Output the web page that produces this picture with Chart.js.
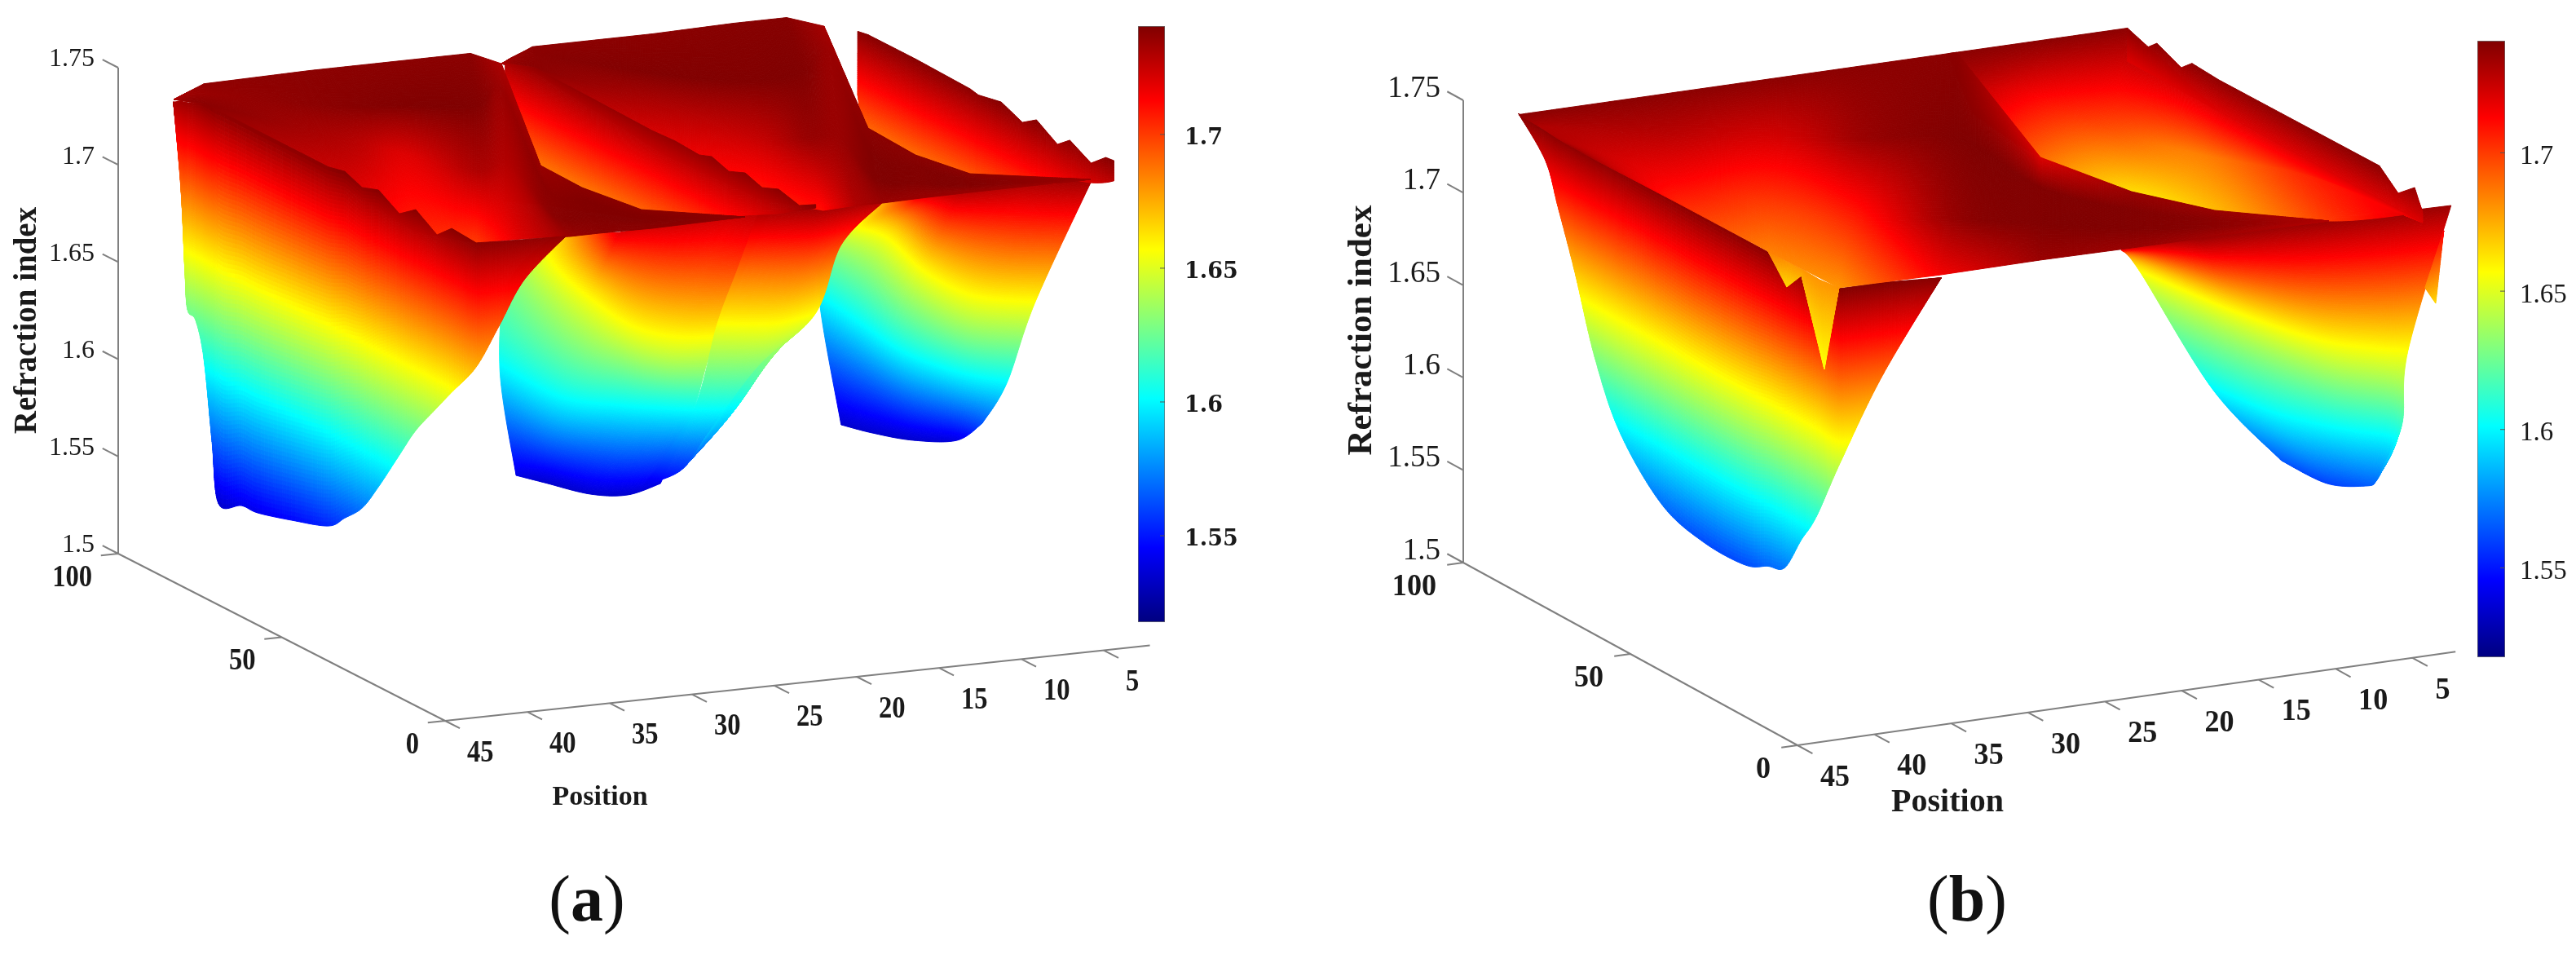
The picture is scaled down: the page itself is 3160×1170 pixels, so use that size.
<!DOCTYPE html>
<html>
<head>
<meta charset="utf-8">
<title>Refraction index</title>
<script src="https://cdn.jsdelivr.net/npm/chart.js@4"></script>
<style>
  html, body { margin: 0; background: #fff; }
  #page { position: relative; width: 3160px; height: 1170px; overflow: hidden; }
  canvas { position: absolute; }
  #surfA, #surfB { filter: blur(0.7px); }
  .cap { position: absolute; top: 1052px; width: 200px; text-align: center; color: #111;
         font: 80px "Liberation Serif", serif; line-height: 100px; }
</style>
</head>
<body>
<div id="page">
  <canvas id="surfA" width="1580" height="1170" style="left:0;top:0"></canvas>
  <canvas id="surfB" width="1580" height="1170" style="left:1580px;top:0"></canvas>
  <canvas id="barA" width="133" height="743" style="left:1396px;top:26px"></canvas>
  <canvas id="barB" width="134" height="768" style="left:3039px;top:44px"></canvas>
  <div class="cap" style="left:620px">(<b>a</b>)</div>
  <div class="cap" style="left:2313px">(<b>b</b>)</div>
</div>
<script>
// axis ticks
const positionTicks = [45, 40, 35, 30, 25, 20, 15, 10, 5];
const depthTicks = [0, 50, 100];
const indexTicks = [1.5, 1.55, 1.6, 1.65, 1.7, 1.75];
const barTicks = [1.55, 1.6, 1.65, 1.7];
const indexMin = 1.5177, indexMax = 1.7405;

// panel (a): every patch is position / depth / index
const aBack2Pos = [[21.73,21.73,21.73,21.73],[19.85,20.63,21.79,21.69],[12.57,16.83,17.71,19.46],[7.62,12.94,15.26,17.04],[4.41,9.26,14.51,15.97],[2.13,5.07,12.87,17.66],[10.98,13.79,16,17.03],[11.24,12.74,14.27,14.62],[10.34,11.29,11.93,11.61],[4.27,4.27,4.27,4.27]];
const aBack2Depth = [[100,100,100,100],[100,95.59,89.5,89.49],[100,78.52,71.59,61.58],[100,69.52,55.3,43.85],[100,70.54,42.89,30.57],[100,83.2,41.16,12.02],[41.99,26.53,14.21,7],[26.18,18.1,9.95,7.4],[14.01,9.25,6.02,7.64],[7.7,7.7,7.7,7.7]];
const aBack2Index = [[1.731,1.731,1.731,1.731],[1.738,1.738,1.738,1.735],[1.738,1.74,1.73,1.715],[1.739,1.74,1.725,1.705],[1.739,1.74,1.735,1.71],[1.7325,1.735,1.735,1.73],[1.738,1.74,1.74,1.735],[1.738,1.74,1.74,1.735],[1.738,1.74,1.74,1.735],[1.735,1.735,1.735,1.735]];

const aBack1Pos = [[41.63,41.63,41.63,41.63],[39.8,40.32,41.89,41.89],[33.37,36.03,36.89,39.7],[28.42,32.53,33.31,37.64],[23.61,28.85,33.34,34.7],[21.73,25.06,30.9,35.82],[30.53,32.99,35.39,35.99],[31.19,32.69,33.72,34.82],[30.37,31.26,31.62,31.67],[25.89,25.89,25.89,25.89]];
const aBack1Depth = [[100,100,100,100],[100,96.91,88.7,88.7],[100,81.58,72.28,55.14],[100,75.54,70.37,46.05],[100,71.66,49.03,42.41],[100,83.27,51.33,22.77],[43.68,29.58,15.03,6.99],[27.68,18.63,10.94,4.19],[13.64,8.35,5.31,3.8],[4.53,4.53,4.53,4.53]];
const aBack1Index = [[1.7306,1.7306,1.7306,1.7306],[1.737,1.735,1.738,1.738],[1.738,1.738,1.73,1.72],[1.738,1.74,1.72,1.705],[1.738,1.74,1.73,1.7],[1.731,1.735,1.73,1.72],[1.735,1.738,1.738,1.735],[1.738,1.74,1.74,1.738],[1.738,1.74,1.74,1.738],[1.738,1.738,1.738,1.738]];

const aFront2Pos = [[22.33,23.42,26.59,24.97],[30.27,26.24,26.69,23.3],[27.32,26.8,24.34,22.13],[23.89,25.71,22.77,20.32],[22.61,23.66,21.3,18.52]];
const aFront2Depth = [[80.79,89.01,76.02,79.19],[20.82,49.85,56.6,78.89],[18.24,34.33,49.25,70.82],[18.05,26.85,46.14,68.44],[13.32,24.69,43.61,67.52]];
const aFront2Index = [[1.66,1.63,1.6,1.54],[1.72,1.657,1.6,1.535],[1.725,1.657,1.6,1.535],[1.725,1.657,1.6,1.535],[1.73,1.657,1.6,1.54]];

const aSlopePos = [[23.38,22.22,22.3,21.3,19.5],[20.58,19.09,19.43,19.2,19.08],[15.99,16.52,16.43,18.39,20.37]];
const aSlopeDepth = [[13.17,25.25,31.05,43.61,67.57],[8.31,21.04,28.03,40.46,58.49],[12.21,22.27,30.72,38.3,44.49]];
const aSlopeIndex = [[1.73,1.69,1.657,1.6,1.54],[1.735,1.695,1.657,1.605,1.555],[1.73,1.7,1.657,1.625,1.585]];

const aFront3Pos = [[5.49,4.65,3.74,2.72],[11.52,5.34,4.3,1.96],[10.98,6.78,5.04,0.63],[7.06,6.68,4.18,-0.62],[4.19,4.17,2.73,1.2]];
const aFront3Depth = [[65.1,86.31,93.4,91.83],[23.02,65.38,79.36,86.16],[13.27,45.91,60.63,80.37],[13.05,31.18,47.52,73.2],[7.62,25.12,41.12,56.29]];
const aFront3Index = [[1.675,1.63,1.6,1.535],[1.72,1.657,1.6,1.535],[1.73,1.657,1.6,1.535],[1.73,1.657,1.6,1.54],[1.735,1.657,1.6,1.565]];

// the three steep walls of (a): one position each, top and bottom index along depth
const aWall1Pos = [41.9,41.9,41.9,41.9,41.9,41.9,41.9,41.9,41.9,41.9,41.9,41.9,41.9,41.9,41.9,41.9,41.9,41.9,41.9,41.9,40.54,39,36.5];
const aWall1Depth = [98.7,96.4,95.2,94.4,91.9,89.4,86.9,84.9,77.9,73,62.7,51.3,46.3,41,36,29.6,24.6,18.1,13.6,6.1,6,6,6];
const aWall1Top = [1.7306,1.733,1.7335,1.734,1.736,1.738,1.738,1.738,1.738,1.738,1.738,1.738,1.74,1.7363,1.7393,1.7326,1.739,1.7316,1.7388,1.7378,1.7374,1.737,1.7363];
const aWall1Bottom = [1.7306,1.6874,1.6464,1.6274,1.6241,1.6065,1.5659,1.5358,1.5409,1.5414,1.5465,1.5533,1.5617,1.5714,1.5866,1.6085,1.6254,1.6427,1.6545,1.674,1.6938,1.7163,1.7363];

const aWall2Pos = [21.5,21.5,21.5,21.5,21.5,21.5,21.5,21.5,21.5,21.5,21.5,21.5];
const aWall2Depth = [100,91,55,48,40.6,36.8,31.6,26.6,21.4,16.4,10,5];
const aWall2Top = [1.7307,1.7365,1.735,1.7357,1.7349,1.7373,1.7342,1.7377,1.7346,1.7381,1.7352,1.74];
const aWall2Bottom = [1.66,1.6664,1.689,1.6958,1.7022,1.7059,1.7107,1.7159,1.7208,1.7255,1.7327,1.7382];

const aWall3Pos = [2,2,2,2,2,2,2,2,2,2,2,2,2];
const aWall3Depth = [90.4,87.2,72.7,56,53.5,46.5,40,35.7,29.3,25.5,19,14.5,12];
const aWall3Top = [1.738,1.739,1.739,1.738,1.737,1.7394,1.7345,1.7395,1.7324,1.7378,1.7316,1.7384,1.7389];
const aWall3Bottom = [1.705,1.691,1.6896,1.6943,1.695,1.7,1.7025,1.7065,1.7125,1.7175,1.7215,1.7255,1.7285];

// panel (b)
const bTopPos = [[41.4,40.06,40.24,41.75],[33.1,34.08,35.24,35.77],[24.6,27.53,30.27,32.17],[18.2,25.18,28.48,31.09],[12.9,21.42,28.46,30.72],[15.36,21.7,25.17,27.69],[16.51,19.15,20.92,21.82],[13.99,15.36,16.13,16.1],[8.22,8.22,8.22,8.22]];
const bTopDepth = [[100,100,93.6,81],[100,90.47,82.7,77.84],[100,86.47,76.3,67.85],[100,70.5,60.2,51.6],[100,60.93,29.8,22.8],[63.65,34.5,18.56,7],[31.1,18.94,10.8,6.65],[17.81,11.5,7.96,8.1],[10.2,10.2,10.2,10.2]];
const bTopIndex = [[1.738,1.73,1.73,1.738],[1.738,1.728,1.715,1.705],[1.738,1.722,1.7,1.685],[1.738,1.735,1.705,1.68],[1.738,1.74,1.735,1.715],[1.72,1.74,1.74,1.735],[1.735,1.74,1.74,1.735],[1.735,1.738,1.738,1.733],[1.73,1.73,1.73,1.73]];

const bFarPos = [[13.46,14.46,15.6],[6.03,9.12,10.12],[1.8,4.8,4.28],[1.8,0.74,2.98],[1.8,0.69,2.98],[1.8,1.21,1.46]];
const bFarDepth = [[100,91.75,82.55],[100,96.07,87.78],[100,91.05,87.34],[72.6,82.92,68.47],[24.6,51.44,34.28],[11.7,21,16.2]];
const bFarIndex = [[1.738,1.73,1.725],[1.738,1.715,1.69],[1.738,1.695,1.665],[1.72,1.685,1.672],[1.72,1.705,1.7],[1.72,1.715,1.72]];

const bBowlPos = [[19.91,10,7.44,4.49],[17.33,8.89,6.57,3.42],[12.04,7.22,4.76,2.5],[6.83,4.91,2.89,2.41],[1.33,3.63,3.45,3.07]];
const bBowlDepth = [[18.64,58.57,48.45,41.53],[6.62,34.92,33.13,32.79],[6.55,17.74,22.93,25.3],[6.11,10.07,16.67,22.79],[5.34,7.65,10.2,17.32]];
const bBowlIndex = [[1.72,1.657,1.6,1.565],[1.735,1.657,1.6,1.56],[1.735,1.657,1.6,1.565],[1.735,1.657,1.6,1.57],[1.735,1.657,1.615,1.585]];

const bNotchPos = [[0.6,0.6],[0.84,-0.86]];
const bNotchDepth = [[10.89,10.89],[15.38,20]];
const bNotchIndex = [[1.715,1.715],[1.68,1.665]];

const bSpikePos = [[32.17,32.17],[31.27,31.09],[31.25,31],[31.33,35.18],[31.09,31.09]];
const bSpikeDepth = [[67.85,67.85],[65.62,67.2],[61.58,63.2],[56.32,37.14],[51.6,51.6]];
const bSpikeIndex = [[1.685,1.685],[1.68,1.665],[1.68,1.675],[1.68,1.655],[1.68,1.68]];

const bWallPos = [41.5,41.5,41.5,41.5,41.5,41.5,41.5,41.5,41.5,41.5,41.5,41.5,41.5,41.5,38.8,35];
const bWallDepth = [99.5,91.5,87.8,82.7,76.6,69,56.6,44.1,31.7,25,20,15,10.5,3,3,3];
const bWallTop = [1.739,1.738,1.738,1.738,1.738,1.738,1.738,1.738,1.738,1.738,1.738,1.735,1.735,1.74,1.74,1.738];
const bWallBottom = [1.739,1.7216,1.7006,1.67,1.629,1.596,1.57,1.562,1.562,1.568,1.572,1.592,1.609,1.647,1.69,1.738];

const bRimPos = [1.8,1.8,1.8,1.8,1.8,1.8,1.8,1.8,1.8,1.8];
const bRimDepth = [100,95.1,91.2,83.9,80.7,72.6,24.6,19,14.1,11.7];
const bRimTop = [1.738,1.7316,1.7385,1.7325,1.738,1.737,1.738,1.7287,1.7366,1.7257];
const bRimBottom = [1.72,1.72,1.72,1.72,1.72,1.72,1.72,1.72,1.72,1.72];

function jet(n) {
  const t = Math.min(1, Math.max(0, (n - indexMin) / (indexMax - indexMin)));
  const ch = v => Math.round(255 * Math.min(1, Math.max(0, 1.5 - Math.abs(4 * t - v))));
  return `rgb(${ch(3)},${ch(2)},${ch(1)})`;
}

// view of the 3D box on the hidden x/y scales
function project(v, p, d, n) {
  const q = 45 - p, D = 100 - d;
  return { x: v.x0 + v.qx * q + v.dx * D, y: v.y0 + v.qy * q + v.dy * D - (n - 1.5) * v.nz };
}

// smoothRows: rows that run as a spline along the columns, smoothV: spline across rows
function patch(v, pos, depth, index, smoothRows = [], smoothV = false) {
  const data = [];
  pos.forEach((col, c) => col.forEach((p, r) => {
    const pt = project(v, p, depth[c][r], index[c][r]);
    pt.n = index[c][r];
    data.push(pt);
  }));
  return { data, cols: pos.length, rows: pos[0].length, showLine: false, pointRadius: 0, surface: true, smoothRows, smoothV };
}

function wall(v, pos, depth, top, bottom) {
  return patch(v, pos.map(p => [p, p]), depth.map(d => [d, d]), top.map((t, i) => [t, bottom[i]]), [1]);
}

function spline(a, b, c, d, t) {
  return 0.5 * (2 * b + (c - a) * t + (2 * a - 5 * b + 4 * c - d) * t * t + (3 * b - a - 3 * c + d) * t * t * t);
}

function drawPatch(chart, ds) {
  const ctx = chart.ctx, sx = chart.scales.x, sy = chart.scales.y;
  const cl = (i, m) => Math.max(0, Math.min(m - 1, i));
  const at = (c, r) => {
    const pt = ds.data[cl(c, ds.cols) * ds.rows + cl(r, ds.rows)];
    return { x: sx.getPixelForValue(pt.x), y: sy.getPixelForValue(pt.y), n: pt.n };
  };
  const along = (c, r, t) => {
    const b = at(c, r), e = at(c + 1, r);
    if (!ds.smoothRows.includes(r)) return { x: b.x + (e.x - b.x) * t, y: b.y + (e.y - b.y) * t, n: b.n + (e.n - b.n) * t };
    const a = at(c - 1, r), f = at(c + 2, r);
    return { x: spline(a.x, b.x, e.x, f.x, t), y: spline(a.y, b.y, e.y, f.y, t), n: spline(a.n, b.n, e.n, f.n, t) };
  };
  const across = (c, r, u, t) => {
    const b = along(c, r, u), e = along(c, r + 1, u);
    if (!ds.smoothV) return { x: b.x + (e.x - b.x) * t, y: b.y + (e.y - b.y) * t, n: b.n + (e.n - b.n) * t };
    const a = along(c, cl(r - 1, ds.rows), u), f = along(c, cl(r + 2, ds.rows), u);
    return { x: spline(a.x, b.x, e.x, f.x, t), y: spline(a.y, b.y, e.y, f.y, t), n: spline(a.n, b.n, e.n, f.n, t) };
  };
  ctx.lineWidth = 1;
  ctx.lineJoin = 'round';
  for (let c = 0; c < ds.cols - 1; c++) {
    for (let r = 0; r < ds.rows - 1; r++) {
      const a = at(c, r), b = at(c + 1, r), d = at(c, r + 1), e = at(c + 1, r + 1);
      const nu = Math.min(70, Math.max(1, Math.ceil(Math.max(Math.hypot(a.x - b.x, a.y - b.y), Math.hypot(d.x - e.x, d.y - e.y)) / 3)));
      const nv = Math.min(90, Math.max(1, Math.ceil(Math.max(Math.hypot(a.x - d.x, a.y - d.y), Math.hypot(b.x - e.x, b.y - e.y)) / 2.5)));
      const grid = [];
      for (let i = 0; i <= nu; i++) {
        const line = [];
        for (let j = 0; j <= nv; j++) line.push(across(c, r, i / nu, j / nv));
        grid.push(line);
      }
      for (let i = 0; i < nu; i++) {
        for (let j = 0; j < nv; j++) {
          const p0 = grid[i][j], p1 = grid[i + 1][j], p2 = grid[i + 1][j + 1], p3 = grid[i][j + 1];
          const col = jet((p0.n + p1.n + p2.n + p3.n) / 4);
          ctx.fillStyle = col;
          ctx.strokeStyle = col;
          ctx.beginPath();
          ctx.moveTo(p0.x, p0.y);
          ctx.lineTo(p1.x, p1.y);
          ctx.lineTo(p2.x, p2.y);
          ctx.lineTo(p3.x, p3.y);
          ctx.closePath();
          ctx.fill();
          ctx.stroke();
        }
      }
    }
  }
}

function axisLines(v, endPos) {
  const gap = { x: NaN, y: NaN };
  const seg = [];
  const add = (p1, d1, n1, p2, d2, n2) => seg.push(project(v, p1, d1, n1), project(v, p2, d2, n2), gap);
  add(45, 0, 1.5, endPos, 0, 1.5);
  add(45, 0, 1.5, 45, 100, 1.5);
  add(45, 100, 1.5, 45, 100, 1.75);
  positionTicks.forEach(p => add(p, 0, 1.5, p, -4.5, 1.5));
  depthTicks.forEach(d => add(45, d, 1.5, 46.05, d, 1.5));
  indexTicks.forEach(n => add(45, 100, n, 45, 104.8, n));
  return { data: seg, showLine: true, borderColor: '#808080', borderWidth: 2, pointRadius: 0 };
}

function makeSurface(id, left, v, patches, txt) {
  new Chart(document.getElementById(id), {
    type: 'scatter',
    data: { datasets: [axisLines(v, 2.2)].concat(patches) },
    options: {
      responsive: false,
      animation: false,
      events: [],
      layout: { padding: 0 },
      plugins: { legend: { display: false }, tooltip: { enabled: false } },
      scales: {
        x: { type: 'linear', display: false, min: left, max: left + 1580 },
        y: { type: 'linear', display: false, min: 0, max: 1170, reverse: true }
      }
    },
    plugins: [{
      id: 'surface',
      afterDatasetsDraw(chart) {
        chart.data.datasets.forEach(ds => { if (ds.surface) drawPatch(chart, ds); });
        const ctx = chart.ctx, sx = chart.scales.x, sy = chart.scales.y;
        const put = (s, pt, dx, dy, align, squeeze) => {
          ctx.save();
          ctx.translate(sx.getPixelForValue(pt.x) + dx, sy.getPixelForValue(pt.y) + dy);
          ctx.scale(squeeze, 1);
          ctx.textAlign = align;
          ctx.fillText(s, 0, 0);
          ctx.restore();
        };
        ctx.save();
        ctx.fillStyle = '#1a1a1a';
        ctx.textBaseline = 'middle';
        ctx.font = txt.indexFont;
        indexTicks.forEach(n => put(String(n), project(v, 45, 100, n), txt.indexX, txt.indexY, 'right', 1));
        ctx.font = txt.tickFont;
        depthTicks.forEach(d => put(String(d), project(v, 45, d, 1.5), txt.depthX, 30, 'right', txt.squeeze));
        positionTicks.forEach(p => put(String(p), project(v, p, 0, 1.5), txt.posX, 40, 'left', txt.squeeze));
        ctx.font = txt.posTitleFont;
        ctx.textAlign = 'center';
        ctx.fillText('Position', sx.getPixelForValue(txt.posTitle[0]), sy.getPixelForValue(txt.posTitle[1]));
        ctx.translate(sx.getPixelForValue(txt.indexTitle[0]), sy.getPixelForValue(txt.indexTitle[1]));
        ctx.rotate(-Math.PI / 2);
        ctx.font = txt.indexTitleFont;
        ctx.fillText('Refraction index', 0, 0);
        ctx.restore();
      }
    }]
  });
}

function makeBar(id, font, labelPad) {
  new Chart(document.getElementById(id), {
    type: 'bar',
    data: {
      labels: [''],
      datasets: [{
        data: [[indexMin, indexMax]],
        barPercentage: 1,
        categoryPercentage: 1,
        borderWidth: 1,
        borderSkipped: false,
        borderColor: '#6e6e6e',
        backgroundColor(c) {
          const area = c.chart.chartArea;
          if (!area) return '#800000';
          const g = c.chart.ctx.createLinearGradient(0, area.bottom, 0, area.top);
          for (let i = 0; i <= 32; i++) g.addColorStop(i / 32, jet(indexMin + (indexMax - indexMin) * i / 32));
          return g;
        }
      }]
    },
    options: {
      responsive: false,
      animation: false,
      events: [],
      layout: { padding: { top: 6, bottom: 6 } },
      plugins: { legend: { display: false }, tooltip: { enabled: false } },
      scales: {
        x: { display: false },
        y: {
          position: 'right',
          min: indexMin,
          max: indexMax,
          grid: { display: false },
          border: { display: false },
          afterFit(s) { s.width = 100; s.paddingTop = 0; s.paddingBottom = 0; },
          afterBuildTicks(s) { s.ticks = barTicks.map(value => ({ value })); },
          ticks: { color: '#1a1a1a', font, padding: labelPad, labelOffset: 5, callback: v => String(v) }
        }
      }
    },
    plugins: [{
      id: 'barTicks',
      afterDatasetsDraw(chart) {
        const ctx = chart.ctx, y = chart.scales.y, a = chart.chartArea;
        ctx.strokeStyle = '#555';
        ctx.lineWidth = 1;
        barTicks.forEach(n => {
          ctx.beginPath();
          ctx.moveTo(a.right - 6, y.getPixelForValue(n));
          ctx.lineTo(a.right, y.getPixelForValue(n));
          ctx.stroke();
        });
      }
    }]
  });
}

const viewA = { x0: 145, y0: 679, qx: 20.2, qy: -2.16, dx: 4.01, dy: 2.05, nz: 2384 };
const viewB = { x0: 1795, y0: 690, qx: 18.86, qy: -2.68, dx: 4.1, dy: 2.24, nz: 2268 };

makeSurface('surfA', 0, viewA, [
  patch(viewA, aFront3Pos, aFront3Depth, aFront3Index, [1, 2, 3], true),
  patch(viewA, aFront2Pos, aFront2Depth, aFront2Index, [1, 2, 3], true),
  patch(viewA, aSlopePos, aSlopeDepth, aSlopeIndex, [1, 2, 3, 4], true),
  wall(viewA, aWall3Pos, aWall3Depth, aWall3Top, aWall3Bottom),
  patch(viewA, aBack2Pos, aBack2Depth, aBack2Index, [1, 2]),
  wall(viewA, aWall2Pos, aWall2Depth, aWall2Top, aWall2Bottom),
  patch(viewA, aBack1Pos, aBack1Depth, aBack1Index, [1, 2]),
  wall(viewA, aWall1Pos, aWall1Depth, aWall1Top, aWall1Bottom)
], {
  indexFont: '32px "Liberation Serif"', indexX: -29, indexY: -10,
  tickFont: 'bold 37px "Liberation Serif"', squeeze: 0.88, depthX: -32, posX: 27,
  posTitleFont: 'bold 34px "Liberation Serif"', posTitle: [736, 978],
  indexTitleFont: 'bold 39px "Liberation Serif"', indexTitle: [34, 393]
});

makeSurface('surfB', 1580, viewB, [
  patch(viewB, bBowlPos, bBowlDepth, bBowlIndex, [1, 2, 3], true),
  patch(viewB, bNotchPos, bNotchDepth, bNotchIndex),
  patch(viewB, bFarPos, bFarDepth, bFarIndex, [1, 2]),
  wall(viewB, bRimPos, bRimDepth, bRimTop, bRimBottom),
  wall(viewB, bWallPos, bWallDepth, bWallTop, bWallBottom),
  patch(viewB, bSpikePos, bSpikeDepth, bSpikeIndex),
  patch(viewB, bTopPos, bTopDepth, bTopIndex, [1, 2])
], {
  indexFont: '37px "Liberation Serif"', indexX: -28, indexY: -14,
  tickFont: 'bold 38px "Liberation Serif"', squeeze: 0.95, depthX: -33, posX: 28,
  posTitleFont: 'bold 40px "Liberation Serif"', posTitle: [2389, 985],
  indexTitleFont: 'bold 43px "Liberation Serif"', indexTitle: [1671, 405]
});

makeBar('barA', { family: '"DejaVu Serif"', size: 27, weight: 'bold' }, 16);
makeBar('barB', { family: '"Liberation Serif"', size: 33 }, 10);
</script>
</body>
</html>
